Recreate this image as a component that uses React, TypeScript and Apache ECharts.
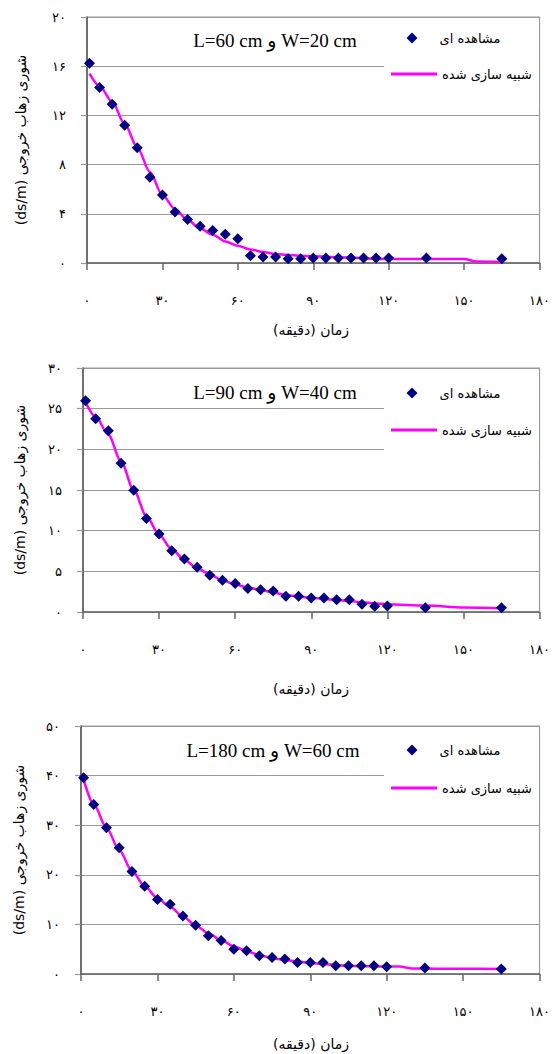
import React, { useEffect, useRef } from "react";
import * as echarts from "echarts";

// ---- data ----
const xObs = [1, 5, 10, 15, 20, 25, 30, 35, 40, 45, 50, 55, 60, 65, 70, 75, 80, 85, 90, 95, 100, 105, 110, 115, 120, 135, 165];
const obs1 = [16.25, 14.26, 12.9, 11.2, 9.38, 6.98, 5.53, 4.15, 3.53, 2.99, 2.64, 2.34, 1.97, 0.59, 0.49, 0.49, 0.35, 0.35, 0.4, 0.4, 0.4, 0.4, 0.4, 0.4, 0.4, 0.4, 0.35];
const obs2 = [25.97, 23.76, 22.3, 18.3, 14.96, 11.5, 9.58, 7.52, 6.53, 5.5, 4.52, 3.9, 3.49, 2.88, 2.75, 2.59, 1.93, 1.93, 1.73, 1.73, 1.52, 1.52, 0.95, 0.7, 0.74, 0.53, 0.53];
const obs3 = [39.57, 34.16, 29.48, 25.47, 20.65, 17.71, 15.04, 14.04, 11.7, 9.83, 7.69, 6.75, 5.01, 4.68, 3.68, 3.34, 3.01, 2.34, 2.34, 2.34, 1.67, 1.67, 1.67, 1.67, 1.47, 1.2, 1.0];

const xSim1 = [1, 5, 10, 15, 20, 25, 30, 35, 40, 45, 50, 55, 60, 65, 70, 75, 80, 90, 100, 120, 150, 155, 165];
const sim1 = [15.4, 14.4, 13.1, 11.3, 9.4, 7.4, 5.5, 4.4, 3.5, 2.8, 2.3, 1.75, 1.4, 1.1, 0.9, 0.73, 0.65, 0.54, 0.46, 0.32, 0.32, 0.12, 0.08];
const xSim2 = [1, 5, 10, 15, 20, 25, 30, 35, 40, 45, 50, 55, 60, 65, 70, 75, 80, 85, 90, 95, 100, 105, 110, 115, 120, 135, 150, 165];
const sim2 = [25.8, 24.0, 21.8, 18.5, 15.0, 11.8, 9.5, 7.7, 6.4, 5.4, 4.6, 3.9, 3.4, 3.0, 2.7, 2.4, 2.1, 1.9, 1.75, 1.6, 1.5, 1.35, 1.2, 1.05, 0.95, 0.8, 0.55, 0.45];
const xSim3 = [1, 5, 10, 15, 20, 25, 30, 35, 40, 45, 50, 55, 60, 65, 70, 75, 80, 85, 90, 95, 100, 105, 110, 115, 120, 125, 130, 150, 165];
const sim3 = [39.3, 34.2, 29.5, 25.0, 20.8, 17.7, 15.3, 13.5, 11.6, 9.8, 8.2, 6.8, 5.6, 4.6, 3.8, 3.2, 2.8, 2.5, 2.2, 2.0, 1.8, 1.65, 1.6, 1.55, 1.5, 1.5, 1.1, 1.05, 1.0];

const xTickLabels = ["۰", "۳۰", "۶۰", "۹۰", "۱۲۰", "۱۵۰", "۱۸۰"];
const yTickLabels1 = ["۰", "۴", "۸", "۱۲", "۱۶", "۲۰"];
const yTickLabels2 = ["۰", "۵", "۱۰", "۱۵", "۲۰", "۲۵", "۳۰"];
const yTickLabels3 = ["۰", "۱۰", "۲۰", "۳۰", "۴۰", "۵۰"];

const titles = ["L=60 cm و W=20 cm", "L=90 cm و W=40 cm", "L=180 cm و W=60 cm"];
const obsName = "مشاهده ای";
const simName = "شبیه سازی شده";
const xName = "\u202Bزمان (دقیقه)\u202C";
const yName = "(ds/m) شوری زهاب خروجی";

const FA = "DejaVu Sans";
const SERIF = "Liberation Serif, DejaVu Sans";

export default function App() {
  const ref = useRef<HTMLDivElement>(null);
  useEffect(() => {
    if (!ref.current) return;
    const chart = echarts.init(ref.current, null, { renderer: "svg" });

    const grids = [
      { left: 87, top: 17, width: 453, height: 246 },
      { left: 83, top: 368, width: 457, height: 244 },
      { left: 81, top: 726, width: 459, height: 248 },
    ];
    const yCfg = [
      { max: 20, interval: 4, labels: yTickLabels1 },
      { max: 30, interval: 5, labels: yTickLabels2 },
      { max: 50, interval: 10, labels: yTickLabels3 },
    ];
    const obs = [obs1, obs2, obs3];
    const simX = [xSim1, xSim2, xSim3];
    const sim = [sim1, sim2, sim3];
    const legendObsY = [38, 393, 750];
    const legendSimY = [74, 430, 788];
    const titleY = [40, 392, 750];
    const titleX = [275, 275, 273];
    const xNameY = [330, 689, 1044];
    const yNameX = [21, 20, 19];

    const xAxis = grids.map((_, i) => ({
      type: "value",
      gridIndex: i,
      min: 0,
      max: 180,
      interval: 30,
      axisLine: { show: true, lineStyle: { color: "#666", width: 1.5 } },
      axisTick: { show: true, length: 7, lineStyle: { color: "#666", width: 1.5 } },
      splitLine: { show: false },
      axisLabel: {
        margin: 31,
        fontFamily: FA,
        fontSize: 13,
        color: "#000",
        formatter: (v: number) => xTickLabels[Math.round(v / 30)] ?? "",
      },
    }));
    const yAxis = grids.map((_, i) => ({
      type: "value",
      gridIndex: i,
      min: 0,
      max: yCfg[i].max,
      interval: yCfg[i].interval,
      axisLine: { show: true, lineStyle: { color: "#555", width: 1.5 } },
      axisTick: { show: true, length: 6, lineStyle: { color: "#999", width: 1.2 } },
      splitLine: { show: true, lineStyle: { color: "#999", width: 1.2 } },
      axisLabel: {
        margin: 21,
        fontFamily: FA,
        fontSize: 13,
        color: "#000",
        formatter: (v: number) => yCfg[i].labels[Math.round(v / yCfg[i].interval)] ?? "",
      },
    }));

    const series: any[] = [];
    grids.forEach((_, i) => {
      series.push({
        name: simName,
        type: "line",
        xAxisIndex: i,
        yAxisIndex: i,
        data: simX[i].map((x, k) => [x, sim[i][k]]),
        symbol: "none",
        smooth: 0.3,
        smoothMonotone: "x",
        lineStyle: { color: "#FF00FF", width: 2.5 },
        itemStyle: { color: "#FF00FF" },
        z: 2,
      });
      series.push({
        name: obsName,
        type: "scatter",
        xAxisIndex: i,
        yAxisIndex: i,
        data: xObs.map((x, k) => [x, obs[i][k]]),
        symbol: "diamond",
        symbolSize: 11,
        itemStyle: { color: "#000080", opacity: 1 },
        z: 3,
      });
    });

    const legend: any[] = [];
    grids.forEach((_, i) => {
      legend.push({
        data: [{ name: obsName, icon: "diamond" }],
        orient: "vertical",
        left: 406.5,
        top: legendObsY[i] - 8,
        padding: 0,
        itemWidth: 11,
        itemHeight: 11,
        selectedMode: false,
        textStyle: { fontFamily: FA, fontSize: 13, color: "#000", lineHeight: 16, padding: [0, 0, 0, 17] },
        z: 5,
      });
      legend.push({
        data: [{ name: simName, icon: "rect" }],
        orient: "vertical",
        left: 391,
        top: legendSimY[i] - 8,
        padding: 0,
        itemWidth: 46,
        itemHeight: 3,
        selectedMode: false,
        textStyle: { fontFamily: FA, fontSize: 13, color: "#000", lineHeight: 16 },
        z: 5,
      });
    });

    const graphic: any[] = [];
    grids.forEach((g, i) => {
      graphic.push({
        type: "rect",
        shape: { x: 384, y: g.top + 4, width: 155, height: 88 },
        style: { fill: "#fff" },
        z: 1,
        silent: true,
      });
      graphic.push({
        type: "text",
        x: titleX[i],
        y: titleY[i],
        style: { text: titles[i], fontFamily: SERIF, fontSize: 19, fill: "#000", textAlign: "center", textVerticalAlign: "middle" },
        z: 5,
      });
      graphic.push({
        type: "text",
        x: 311,
        y: xNameY[i],
        style: { text: xName, fontFamily: FA, fontSize: 14, fill: "#000", textAlign: "center", textVerticalAlign: "middle" },
        z: 5,
      });
      graphic.push({
        type: "text",
        x: yNameX[i],
        y: g.top + g.height / 2,
        rotation: Math.PI / 2,
        style: { text: yName, fontFamily: FA, fontSize: 14, fill: "#000", textAlign: "center", textVerticalAlign: "middle" },
        z: 5,
      });
    });

    chart.setOption({
      animation: false,
      backgroundColor: "#fff",
      grid: grids.map((g) => ({ ...g, show: true, borderColor: "#999", borderWidth: 1.2, backgroundColor: "transparent" })),
      xAxis,
      yAxis,
      legend,
      series,
      graphic,
    });
    return () => chart.dispose();
  }, []);
  return <div ref={ref} style={{ position: "absolute", left: 0, top: 0, width: 553, height: 1054 }} />;
}
